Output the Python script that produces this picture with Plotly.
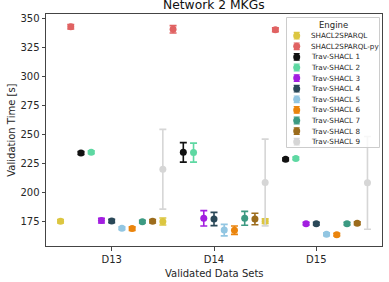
import plotly.graph_objects as go

categories = ["D13", "D14", "D15"]
engines = ["SHACL2SPARQL", "SHACL2SPARQL-py", "Trav-SHACL 1", "Trav-SHACL 2", "Trav-SHACL 3",
           "Trav-SHACL 4", "Trav-SHACL 5", "Trav-SHACL 6", "Trav-SHACL 7", "Trav-SHACL 8", "Trav-SHACL 9"]
colors = ["#dcc640", "#e06262", "#111111", "#5ed8a2", "#a21ee0", "#2a4858",
          "#92c6e2", "#ea840c", "#3c9a82", "#9c6c1c", "#d6d6d6"]

# mean validation time per engine for D13, D14, D15
means = {
    "SHACL2SPARQL":    [175.0, 174.8, 175.1],
    "SHACL2SPARQL-py": [342.9, 340.7, 340.3],
    "Trav-SHACL 1":    [233.9, 234.5, 228.5],
    "Trav-SHACL 2":    [234.6, 234.3, 229.3],
    "Trav-SHACL 3":    [175.6, 177.6, 173.0],
    "Trav-SHACL 4":    [175.3, 177.0, 173.0],
    "Trav-SHACL 5":    [169.0, 167.4, 163.8],
    "Trav-SHACL 6":    [168.7, 167.3, 163.5],
    "Trav-SHACL 7":    [174.7, 177.6, 173.0],
    "Trav-SHACL 8":    [175.0, 177.0, 173.3],
    "Trav-SHACL 9":    [219.9, 208.5, 208.2],
}
# half-width of error bars
errors = {
    "SHACL2SPARQL":    [1.5, 3.0, 2.0],
    "SHACL2SPARQL-py": [2.0, 3.2, 1.6],
    "Trav-SHACL 1":    [1.2, 8.4, 1.2],
    "Trav-SHACL 2":    [1.2, 8.2, 1.2],
    "Trav-SHACL 3":    [2.0, 6.6, 1.2],
    "Trav-SHACL 4":    [1.5, 5.7, 1.2],
    "Trav-SHACL 5":    [1.2, 5.0, 1.2],
    "Trav-SHACL 6":    [1.5, 3.6, 1.2],
    "Trav-SHACL 7":    [1.2, 6.0, 1.2],
    "Trav-SHACL 8":    [1.5, 5.0, 1.2],
    "Trav-SHACL 9":    [34.4, 37.4, 40.0],
}

title = "Network 2 MKGs"
x_label = "Validated Data Sets"
y_label = "Validation Time [s]"
legend_title = "Engine"
y_ticks = [175, 200, 225, 250, 275, 300, 325, 350]

FONT = "DejaVu Sans"
TXT = "#262626"

fig = go.Figure()
n = len(engines)
for k, (eng, col) in enumerate(zip(engines, colors)):
    off = -0.5 + k * (1.0 / (n - 1))
    xs = [i + off for i in range(len(categories))]
    fig.add_trace(go.Scatter(
        x=xs, y=means[eng], mode="markers", name=eng,
        marker=dict(color=col, size=7, line=dict(width=0)),
        error_y=dict(type="data", array=errors[eng], color=col, thickness=1.6, width=3.5),
        showlegend=False, xaxis="x", yaxis="y"))

# ---- custom legend on an overlay axis in pixel units ----
W, H = 389, 282
L, R, T, B = 46, 382, 14, 246
PW, PH = R - L, B - T
bx0, bx1, by0, by1 = 286.5, 379.5, 17.5, 147.5
fig.add_trace(go.Scatter(
    x=[bx0, bx1, bx1, bx0, bx0], y=[by0, by0, by1, by1, by0], mode="lines",
    fill="toself", fillcolor="rgba(255,255,255,0.8)", line=dict(color="#cccccc", width=1),
    hoverinfo="skip", showlegend=False, xaxis="x2", yaxis="y2"))
row0, rowh = 35.7, 10.6
ys = [row0 + i * rowh for i in range(n)]
for col, yv in zip(colors, ys):
    fig.add_trace(go.Scatter(
        x=[296.7], y=[yv], mode="markers",
        marker=dict(color=col, size=7),
        error_y=dict(type="constant", value=3.3, color=col, thickness=1.2, width=3),
        hoverinfo="skip", showlegend=False, xaxis="x2", yaxis="y2"))
annotations = []
for eng, yv in zip(engines, ys):
    annotations.append(dict(x=309, y=yv, xref="x2", yref="y2", text=eng, showarrow=False,
                            xanchor="left", yanchor="middle",
                            font=dict(family=FONT, size=7.2, color=TXT)))
annotations.append(dict(x=(bx0 + bx1) / 2, y=24.5, xref="x2", yref="y2", text=legend_title,
                        showarrow=False, xanchor="center", yanchor="middle",
                        font=dict(family=FONT, size=8.5, color=TXT)))
# chart title and axis titles in paper coordinates
annotations.append(dict(x=0.5, y=1 + (T - 4.5) / PH, xref="paper", yref="paper", text=title,
                        showarrow=False, xanchor="center", yanchor="middle",
                        font=dict(family=FONT, size=12.3, color="#111111")))
annotations.append(dict(x=0.5, y=-(273 - B) / PH, xref="paper", yref="paper", text=x_label,
                        showarrow=False, xanchor="center", yanchor="middle",
                        font=dict(family=FONT, size=10, color=TXT)))
annotations.append(dict(x=-(L - 10.7) / PW, y=0.5, xref="paper", yref="paper", text=y_label,
                        showarrow=False, xanchor="center", yanchor="middle", textangle=-90,
                        font=dict(family=FONT, size=10, color=TXT)))

fig.update_layout(
    width=W, height=H,
    margin=dict(l=L, r=W - R, t=T, b=H - B, pad=0, autoexpand=False),
    paper_bgcolor="white", plot_bgcolor="white",
    font=dict(family=FONT, size=10, color=TXT),
    showlegend=False,
    annotations=annotations,
    xaxis=dict(range=[-0.642, 2.642], tickmode="array", tickvals=list(range(len(categories))),
               ticktext=categories, showgrid=False, zeroline=False, automargin=False,
               showline=True, linecolor="#444444", linewidth=1, mirror=True,
               ticks="outside", ticklen=3.5, tickcolor="#444444", tickwidth=1,
               tickfont=dict(size=10, color=TXT)),
    yaxis=dict(range=[153.7, 353.9], tickmode="array", tickvals=y_ticks,
               showgrid=False, zeroline=False, automargin=False,
               showline=True, linecolor="#444444", linewidth=1, mirror=True,
               ticks="outside", ticklen=3.5, tickcolor="#444444", tickwidth=1,
               tickfont=dict(size=10, color=TXT)),
    xaxis2=dict(overlaying="x", range=[L, R], visible=False, anchor="y2", automargin=False),
    yaxis2=dict(overlaying="y", range=[B, T], visible=False, anchor="x2", automargin=False),
)

fig.write_html("out.html", config={"displayModeBar": False},
               post_script="document.body.style.margin='0';")
